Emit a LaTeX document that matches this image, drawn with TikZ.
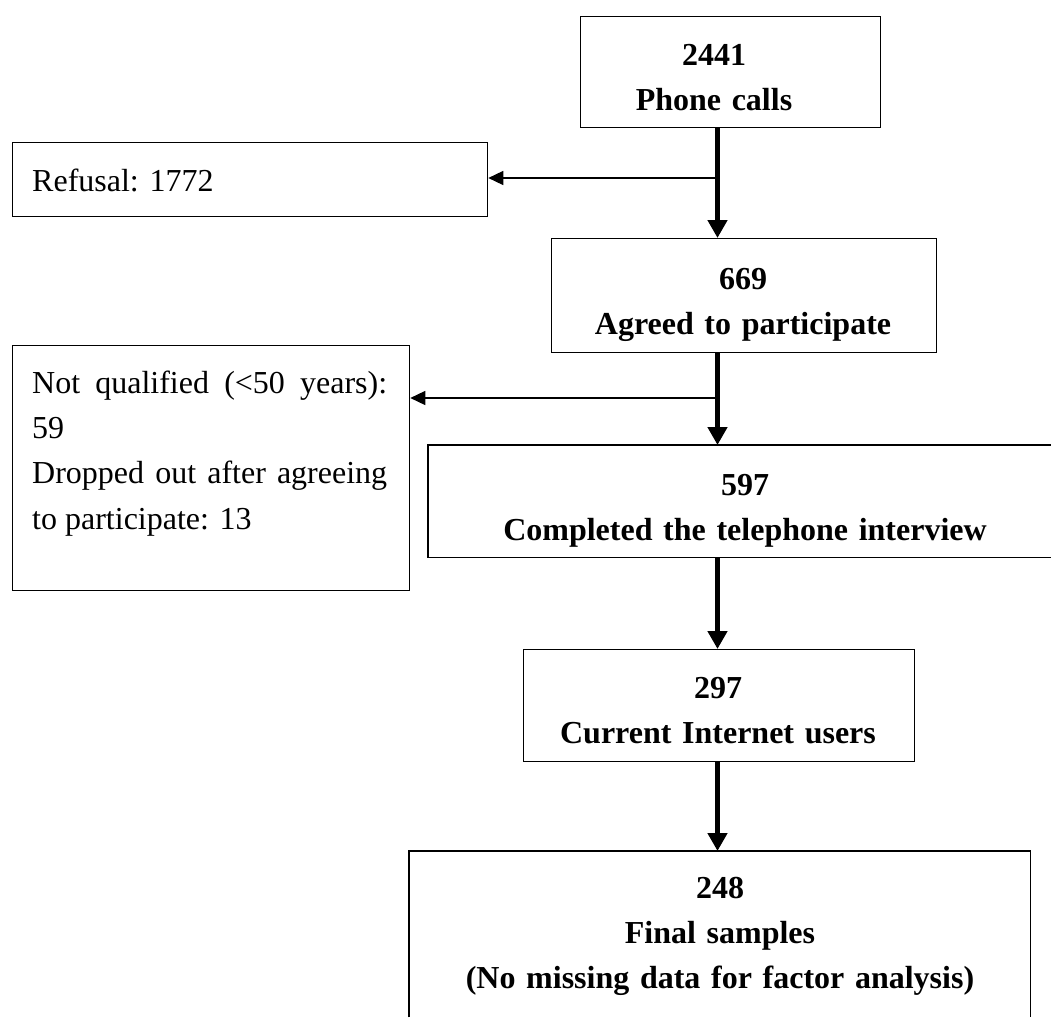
\documentclass[tikz,border=0pt]{standalone}
\usepackage{fontspec}
\setmainfont{Liberation Serif}
\usetikzlibrary{arrows.meta}
\begin{document}
\begin{tikzpicture}[x=1pt,y=-1pt,
  box/.style={draw=black, line width=1.3pt, inner sep=0pt, anchor=north west},
  openbox/.style={draw=none, inner sep=0pt, anchor=north west},
  edge/.style={draw=black, line width=1.3pt},
  boldtxt/.style={font=\fontsize{32}{45.3}\selectfont\bfseries, align=center, text width=#1, anchor=base, inner sep=0pt},
  plaintxt/.style={font=\fontsize{32}{45.4}\selectfont, align=justify, text width=#1, anchor=base west, inner sep=0pt},
  bigarrow/.style={line width=4.5pt, -{Triangle[length=18pt,width=19pt]}},
  smallarrow/.style={line width=1.5pt, -{Triangle[length=15pt,width=14pt]}}]
\useasboundingbox (0,0) rectangle (1051,1017);
% boxes
\node[box, minimum width=300pt, minimum height=111pt] (b1) at (580,16) {};
\node[box, minimum width=475pt, minimum height=74pt] (refusal) at (12,142) {};
\node[box, minimum width=385pt, minimum height=114pt] (b2) at (551,238) {};
\node[box, minimum width=397pt, minimum height=245pt] (excl) at (12,345) {};
\node[openbox, minimum width=623pt, minimum height=112pt] (b3) at (428,445) {};
\draw[edge] (b3.north east) -- (b3.north west) -- (b3.south west) -- (b3.south east);
\node[box, minimum width=391pt, minimum height=112pt] (b4) at (523,649) {};
\node[openbox, minimum width=621pt, minimum height=166pt] (b5) at (409,851) {};
\draw[edge] (b5.south west) -- (b5.north west) -- (b5.north east) -- (b5.south east);
% texts
\node[boldtxt=290pt] (t1) at (714,65) {2441\\Phone calls};
\node[boldtxt=380pt] (t2) at (743,289) {669\\Agreed to participate};
\node[boldtxt=560pt] (t3) at (745,495) {597\\Completed the telephone interview};
\node[boldtxt=380pt] (t4) at (718,698) {297\\Current Internet users};
\node[boldtxt=600pt] (t5) at (720,898) {248\\Final samples\\(No missing data for factor analysis)};
\node[plaintxt=400pt] (trefusal) at (32,191) {Refusal: 1772};
\node[plaintxt=355pt] (texcl) at (32,393) {Not qualified (<50 years):\linebreak 59\\Dropped out after agreeing\linebreak to participate: 13};
% connectors
\coordinate (trunk) at (717.5,0);
\coordinate (j1) at (717.5,178);
\coordinate (j2) at (717.5,398);
\draw[bigarrow] (b1.south -| trunk) -- (b2.north -| trunk);
\draw[bigarrow] (b2.south -| trunk) -- (b3.north -| trunk);
\draw[bigarrow] (b3.south -| trunk) -- (b4.north -| trunk);
\draw[bigarrow] (b4.south -| trunk) -- (b5.north -| trunk);
\draw[smallarrow] (j1) -- (refusal.east |- j1);
\draw[smallarrow] (j2) -- (excl.east |- j2);
\end{tikzpicture}
\end{document}
